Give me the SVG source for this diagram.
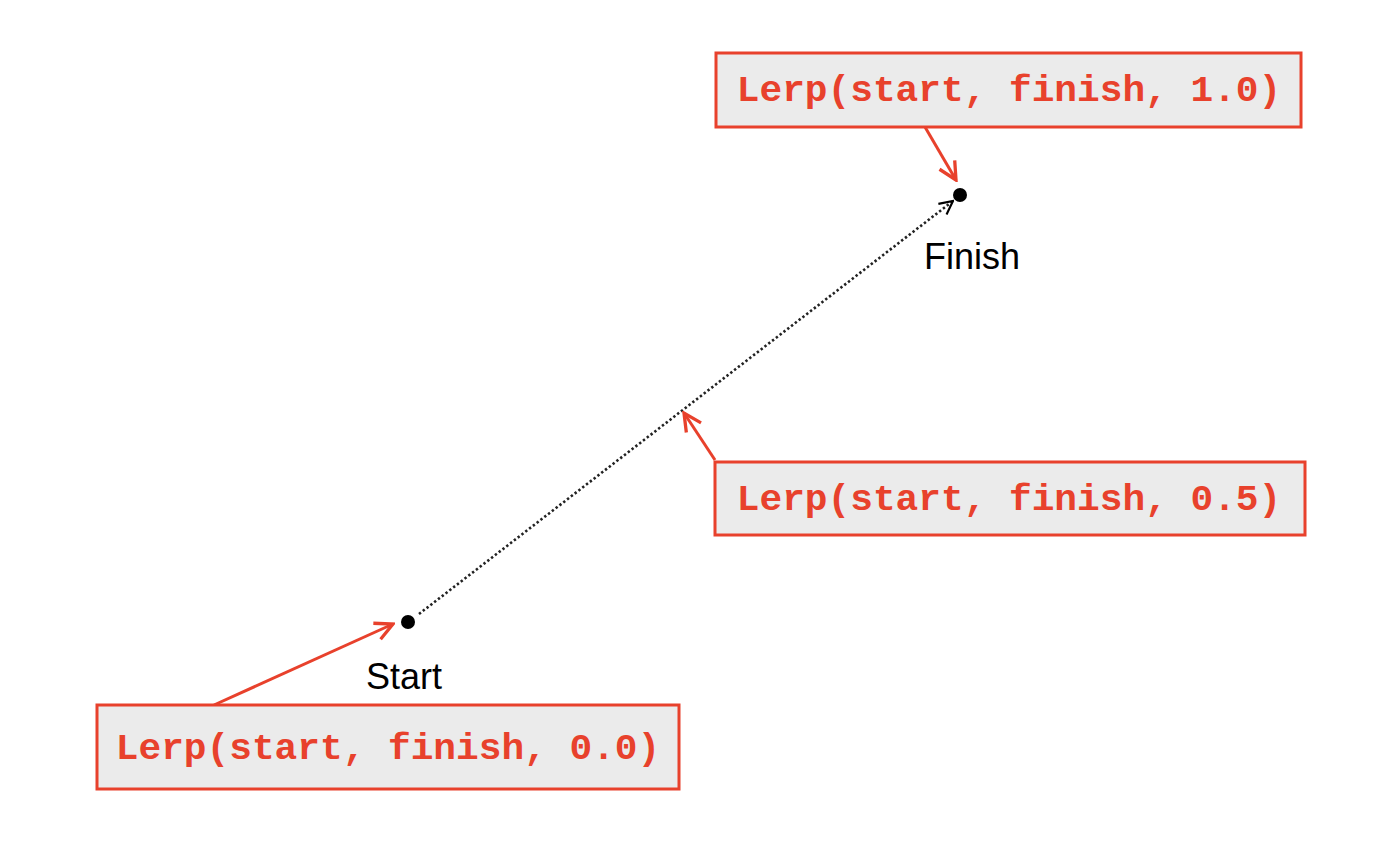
<svg xmlns="http://www.w3.org/2000/svg" width="1378" height="864" viewBox="0 0 1378 864">
<defs>
<style>
.box{fill:#ebebeb;stroke:#e8412c;stroke-width:3}
.code{font-family:"Liberation Mono","Courier New",monospace;font-weight:bold;font-size:37.8px;fill:#e8412c}
.lbl{font-family:"Liberation Sans",Arial,sans-serif;font-size:36px;fill:#000}
.red{stroke:#e8412c;stroke-width:3;fill:none}
</style>
<marker id="ar" viewBox="0 0 12 12" refX="11" refY="6" markerWidth="16" markerHeight="16" markerUnits="userSpaceOnUse" orient="auto">
<path d="M1,1 L11,6 L1,11" fill="none" stroke="#000" stroke-width="1.6"/>
</marker>
<marker id="rr" viewBox="0 0 20 20" refX="18" refY="10" markerWidth="22" markerHeight="22" markerUnits="userSpaceOnUse" orient="auto">
<path d="M2,2 L18,10 L2,18" fill="none" stroke="#e8412c" stroke-width="3"/>
</marker>
</defs>
<rect width="1378" height="864" fill="#fff"/>
<g id="connectors">
<line x1="419" y1="614" x2="953" y2="201" stroke="#222" stroke-width="2.6" stroke-dasharray="2.4,2.4" marker-end="url(#ar)"/>
<line class="red" x1="925" y1="127" x2="956" y2="180" marker-end="url(#rr)"/>
<line class="red" x1="715" y1="460" x2="684" y2="413" marker-end="url(#rr)"/>
<line class="red" x1="214" y1="705" x2="393" y2="624" marker-end="url(#rr)"/>
</g>
<g id="finish">
<circle cx="960" cy="195" r="7" fill="#000"/>
<text class="lbl" x="924" y="269">Finish</text>
</g>
<g id="start">
<circle cx="408" cy="622" r="7" fill="#000"/>
<text class="lbl" x="366" y="689">Start</text>
</g>
<g id="lerp10">
<rect class="box" x="716" y="53" width="585" height="74"/>
<text class="code" x="1009" y="101" text-anchor="middle">Lerp(start, finish, 1.0)</text>
</g>
<g id="lerp05">
<rect class="box" x="715" y="462" width="590" height="73"/>
<text class="code" x="1009" y="510" text-anchor="middle">Lerp(start, finish, 0.5)</text>
</g>
<g id="lerp00">
<rect class="box" x="97" y="705" width="582" height="84"/>
<text class="code" x="388" y="759" text-anchor="middle">Lerp(start, finish, 0.0)</text>
</g>
</svg>
